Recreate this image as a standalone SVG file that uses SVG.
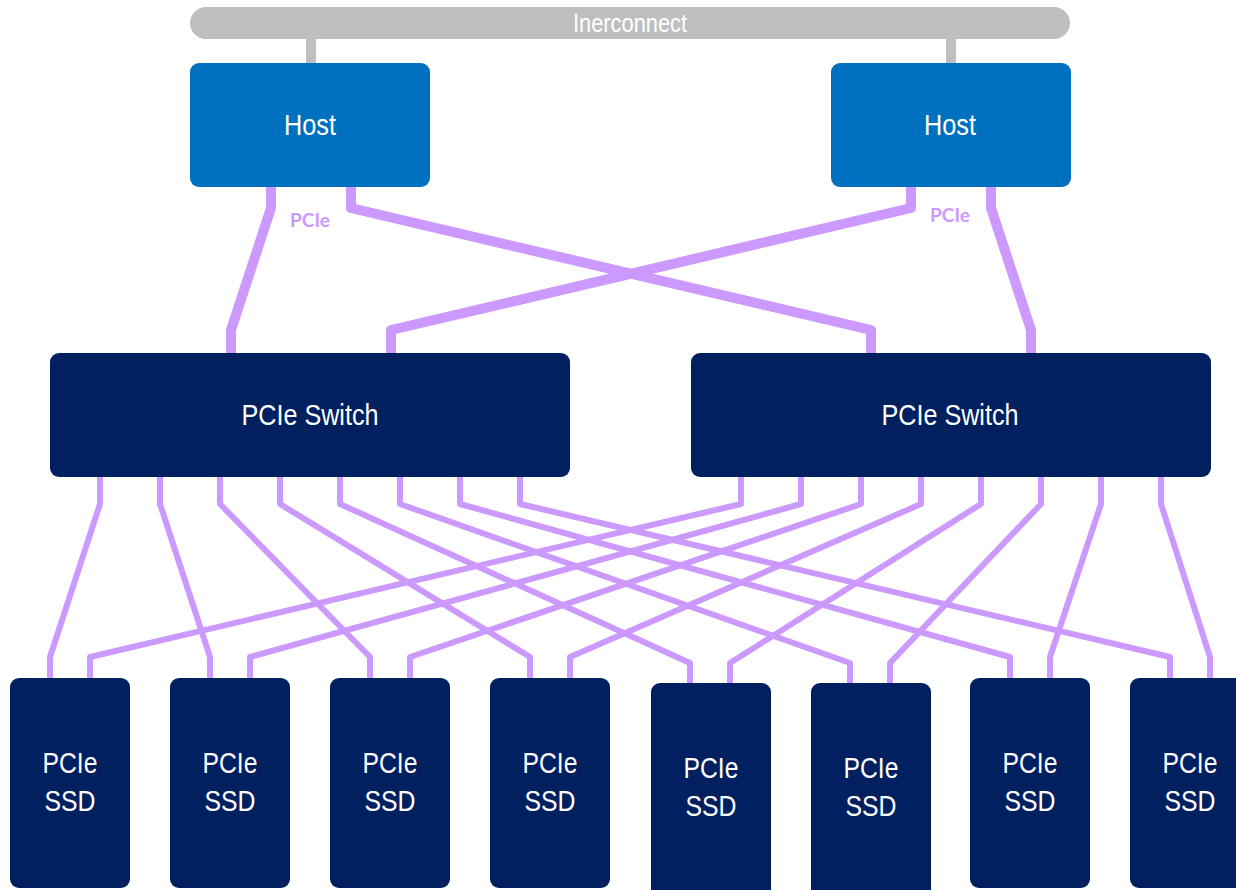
<svg xmlns="http://www.w3.org/2000/svg" width="1236" height="890" viewBox="0 0 1236 890">
<style>
.lbl{font-family:"Liberation Sans Narrow","Liberation Sans",Arial,sans-serif;fill:#FFFFFF;text-anchor:middle;font-size:30px}
.host{fill:#0070C0}
.dark{fill:#002060}
.bus{fill:#BFBFBF}
.thick{fill:none;stroke:#CC99FF;stroke-width:10;stroke-linejoin:round}
.thin{fill:none;stroke:#CC99FF;stroke-width:6;stroke-linejoin:round}
.pcie{font-family:Lato,"Liberation Sans",sans-serif;font-weight:bold;font-size:19px;fill:#CC99FF;text-anchor:middle}
</style>
<rect width="1236" height="890" fill="#FFFFFF"/>
<g id="interconnect">
<rect class="bus" x="306" y="36" width="10" height="30"/>
<rect class="bus" x="946" y="36" width="10" height="30"/>
<rect class="bus" x="190" y="7" width="880" height="32" rx="16"/>
<text class="lbl" x="630" y="32" style="font-size:26px" textLength="114" lengthAdjust="spacingAndGlyphs">Inerconnect</text>
</g>
<g id="connectors">
<polyline class="thick" points="271,185 271,208 231,330 231,356"/>
<polyline class="thick" points="351,185 351,208 871,330 871,356"/>
<polyline class="thick" points="911,185 911,208 391,330 391,356"/>
<polyline class="thick" points="991,185 991,208 1031,330 1031,356"/>
<polyline class="thin" points="100,475 100,504 50,657 50,680"/>
<polyline class="thin" points="160,475 160,504 210,657 210,680"/>
<polyline class="thin" points="220,475 220,504 370,657 370,680"/>
<polyline class="thin" points="280,475 280,504 530,657 530,680"/>
<polyline class="thin" points="340,475 340,504 690,663 690,685"/>
<polyline class="thin" points="400,475 400,504 850,663 850,685"/>
<polyline class="thin" points="460,475 460,504 1010,657 1010,680"/>
<polyline class="thin" points="520,475 520,504 1170,657 1170,680"/>
<polyline class="thin" points="741,475 741,504 90,657 90,680"/>
<polyline class="thin" points="801,475 801,504 250,657 250,680"/>
<polyline class="thin" points="861,475 861,504 410,657 410,680"/>
<polyline class="thin" points="921,475 921,504 570,657 570,680"/>
<polyline class="thin" points="981,475 981,504 730,663 730,685"/>
<polyline class="thin" points="1041,475 1041,504 890,663 890,685"/>
<polyline class="thin" points="1101,475 1101,504 1050,657 1050,680"/>
<polyline class="thin" points="1161,475 1161,504 1210,657 1210,680"/>
<text class="pcie" x="310" y="227" textLength="40" lengthAdjust="spacingAndGlyphs">PCIe</text>
<text class="pcie" x="950" y="222" textLength="40" lengthAdjust="spacingAndGlyphs">PCIe</text>
</g>
<g id="host1"><rect class="host" x="190" y="63" width="240" height="124" rx="9"/><text class="lbl" x="310" y="135" textLength="52" lengthAdjust="spacingAndGlyphs">Host</text></g>
<g id="host2"><rect class="host" x="831" y="63" width="240" height="124" rx="9"/><text class="lbl" x="950" y="135" textLength="52" lengthAdjust="spacingAndGlyphs">Host</text></g>
<g id="switch1"><rect class="dark" x="50" y="353" width="520" height="124" rx="9"/><text class="lbl" x="310" y="425" textLength="137" lengthAdjust="spacingAndGlyphs">PCIe Switch</text></g>
<g id="switch2"><rect class="dark" x="691" y="353" width="520" height="124" rx="9"/><text class="lbl" x="950" y="425" textLength="137" lengthAdjust="spacingAndGlyphs">PCIe Switch</text></g>
<g id="ssd1"><rect class="dark" x="10" y="678" width="120" height="210" rx="9"/><text class="lbl" x="70" y="773" textLength="55" lengthAdjust="spacingAndGlyphs">PCIe</text><text class="lbl" x="70" y="811" textLength="51" lengthAdjust="spacingAndGlyphs">SSD</text></g>
<g id="ssd2"><rect class="dark" x="170" y="678" width="120" height="210" rx="9"/><text class="lbl" x="230" y="773" textLength="55" lengthAdjust="spacingAndGlyphs">PCIe</text><text class="lbl" x="230" y="811" textLength="51" lengthAdjust="spacingAndGlyphs">SSD</text></g>
<g id="ssd3"><rect class="dark" x="330" y="678" width="120" height="210" rx="9"/><text class="lbl" x="390" y="773" textLength="55" lengthAdjust="spacingAndGlyphs">PCIe</text><text class="lbl" x="390" y="811" textLength="51" lengthAdjust="spacingAndGlyphs">SSD</text></g>
<g id="ssd4"><rect class="dark" x="490" y="678" width="120" height="210" rx="9"/><text class="lbl" x="550" y="773" textLength="55" lengthAdjust="spacingAndGlyphs">PCIe</text><text class="lbl" x="550" y="811" textLength="51" lengthAdjust="spacingAndGlyphs">SSD</text></g>
<g id="ssd5"><rect class="dark" x="651" y="683" width="120" height="215" rx="9"/><text class="lbl" x="711" y="778" textLength="55" lengthAdjust="spacingAndGlyphs">PCIe</text><text class="lbl" x="711" y="816" textLength="51" lengthAdjust="spacingAndGlyphs">SSD</text></g>
<g id="ssd6"><rect class="dark" x="811" y="683" width="120" height="215" rx="9"/><text class="lbl" x="871" y="778" textLength="55" lengthAdjust="spacingAndGlyphs">PCIe</text><text class="lbl" x="871" y="816" textLength="51" lengthAdjust="spacingAndGlyphs">SSD</text></g>
<g id="ssd7"><rect class="dark" x="970" y="678" width="120" height="210" rx="9"/><text class="lbl" x="1030" y="773" textLength="55" lengthAdjust="spacingAndGlyphs">PCIe</text><text class="lbl" x="1030" y="811" textLength="51" lengthAdjust="spacingAndGlyphs">SSD</text></g>
<g id="ssd8"><rect class="dark" x="1130" y="678" width="120" height="210" rx="9"/><text class="lbl" x="1190" y="773" textLength="55" lengthAdjust="spacingAndGlyphs">PCIe</text><text class="lbl" x="1190" y="811" textLength="51" lengthAdjust="spacingAndGlyphs">SSD</text></g>
</svg>
